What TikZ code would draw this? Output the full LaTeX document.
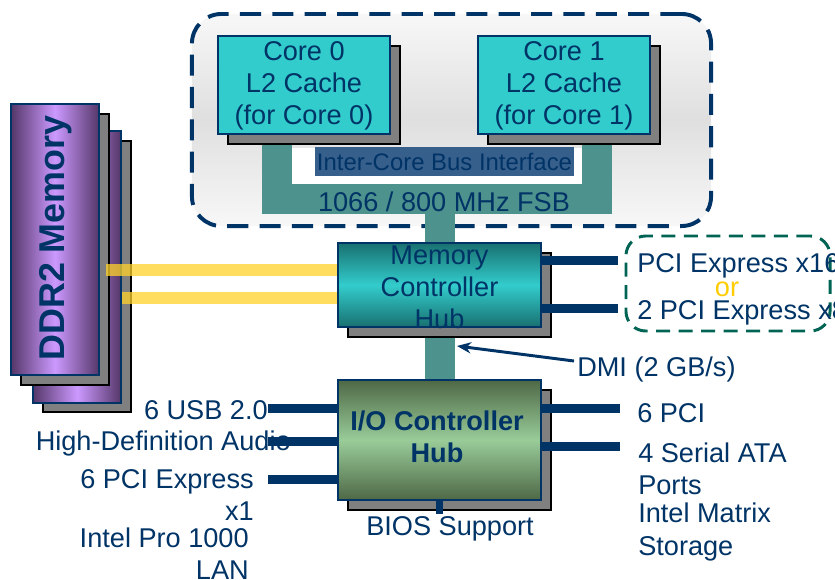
\documentclass[tikz,border=0pt]{standalone}
\usepackage{fontspec}
\setmainfont{Liberation Sans}
\usetikzlibrary{arrows.meta,shadows}
\definecolor{navy}{RGB}{0,51,102}
\definecolor{corecyan}{RGB}{51,204,204}
\definecolor{busteal}{RGB}{78,146,141}
\definecolor{mchdark}{RGB}{25,112,112}
\definecolor{ichdark}{RGB}{78,104,70}
\definecolor{ichlight}{RGB}{153,204,153}
\definecolor{ddrdark}{RGB}{85,55,105}
\definecolor{ddrlight}{RGB}{204,153,255}
\definecolor{memyellow}{RGB}{255,210,40}
\definecolor{pcigreen}{RGB}{0,100,85}
\definecolor{orgold}{RGB}{255,204,0}
\definecolor{icbblue}{RGB}{55,95,140}
\begin{document}
\begin{tikzpicture}[x=0.025cm,y=-0.025cm,
every node/.style={text=navy,inner sep=0pt,font=\fontsize{19.3}{22.8}\selectfont},
box/.style={draw=navy,line width=1.4pt,
  general shadow={fill=gray,draw=black,line width=1.4pt,shadow xshift=0.24cm,shadow yshift=-0.24cm}},
core/.style={box,fill=corecyan,minimum width=4.3cm,minimum height=2.45cm},
hub/.style={box,minimum width=5.075cm},
ddr/.style={box,left color=ddrdark,right color=ddrdark,middle color=ddrlight,minimum width=2.2cm,minimum height=6.775cm},
small/.style={font=\fontsize{17}{21}\selectfont},
bus/.style={busteal,line width=21pt},
link/.style={navy,line width=6.4pt},
memlink/.style={memyellow,opacity=.75,line width=8.5pt}
]
\useasboundingbox (0,0) rectangle (835,579);

% processor package
\node[draw=navy,line width=2.8pt,dash pattern=on 15pt off 8pt,rounded corners=21pt,
  top color=gray!6,bottom color=gray!6,middle color=gray!25,
  minimum width=12.975cm,minimum height=5.3cm] (cpu) at (451.5,120) {};
\fill[white] (292,148) rectangle (583,185);

% front side bus
\coordinate (fsbL) at (277,140);
\coordinate (fsbR) at (597,140);
\coordinate (fsbmid) at (440,199);
\coordinate (ichtop) at (440,380);
\draw[bus] (fsbL) -- (fsbL |- fsbmid) -- (fsbR |- fsbmid) -- (fsbR);
\draw[bus] (fsbmid) -- (ichtop);
\node[small,fill=icbblue,minimum width=6.475cm,minimum height=0.725cm] (icb) at (444.5,161.5) {Inter-Core Bus Interface};
\node (fsb) at (444,202) {1066 / 800 MHz FSB};

% cores
\node[core] (core0) at (304,85) {};
\node[align=center] (core0text) at (304,86) {Core 0\\L2 Cache\\(for Core 0)};
\node[core] (core1) at (564,85) {};
\node[align=center] (core1text) at (564,86) {Core 1\\L2 Cache\\(for Core 1)};

% hubs
\node[hub,top color=mchdark,bottom color=mchdark,middle color=corecyan,minimum height=2.1cm] (mch) at (439.5,285) {};
\node[align=center] (mchtext) at (439.5,287) {Memory\\Controller\\Hub};
\node[hub,top color=ichdark,bottom color=ichdark,middle color=ichlight,minimum height=3cm] (ich) at (439.5,440) {};
\node[align=center,font=\fontsize{19.3}{22.8}\selectfont\bfseries] (ichtext) at (437,437) {I/O Controller\\Hub};

% memory
\node[ddr] (ddrback) at (77,267) {};
\node[ddr] (ddrfront) at (55,239.5) {};
\node[rotate=90,font=\fontsize{25.5}{30}\selectfont\bfseries] (ddrtext) at (56,238) {DDR2 Memory};
\coordinate (memA) at (106,270);
\coordinate (memB) at (122,298);
\draw[memlink] (memA) -- (memA -| mch.west);
\draw[memlink] (memB) -- (memB -| mch.west);

% graphics
\coordinate (pcieA) at (618,260);
\coordinate (pcieB) at (618,308);
\draw[link] (mch.east |- pcieA) -- (pcieA);
\draw[link] (mch.east |- pcieB) -- (pcieB);
\node[draw=pcigreen,line width=2.1pt,dash pattern=on 10pt off 6pt,rounded corners=14pt,
  minimum width=5.1cm,minimum height=2.375cm] (pcibox) at (728,283.5) {};
\node[anchor=west] (pcie16) at (637,266) {PCI Express x16};
\node[text=orgold] (pcior) at (727,289) {or};
\node[anchor=west] (pcie8) at (637,313) {2 PCI Express x8};

% DMI
\coordinate (dmitail) at (574,361);
\coordinate (dmitip) at (457,346);
\node[anchor=west] (dmi) at (577,369) {DMI (2 GB/s)};
\draw[navy,line width=2.1pt,-{Stealth[length=10pt,width=8pt]}] (dmitail) -- (dmitip);

% I/O hub, left side
\node[anchor=east] (usbtext) at (268,410) {6 USB 2.0};
\node[anchor=east] (hdatext) at (291,443) {High-Definition Audio};
\node[anchor=east,align=right] (pcie1text) at (254,495) {6 PCI Express\\x1};
\node[anchor=east,align=right] (lantext) at (249,554) {Intel Pro 1000\\LAN};
\coordinate (usb) at (268,408);
\coordinate (hda) at (268,441);
\coordinate (pcie1) at (268,479);
\draw[link] (usb) -- (usb -| ich.west);
\draw[link] (hda) -- (hda -| ich.west);
\draw[link] (pcie1) -- (pcie1 -| ich.west);

% I/O hub, right side
\coordinate (pci) at (620,408);
\coordinate (sata) at (620,446);
\draw[link] (ich.east |- pci) -- (pci);
\draw[link] (ich.east |- sata) -- (sata);
\node[anchor=west] (pcitext) at (637,413) {6 PCI};
\node[anchor=west,align=left] (satatext) at (638,469) {4 Serial ATA\\Ports};
\node[anchor=west,align=left] (imstext) at (638,532) {Intel Matrix\\Storage};

% BIOS
\coordinate (bios) at (439.5,514);
\draw[navy,line width=5.6pt] (ich.south) -- (bios);
\node (biostext) at (450,529) {BIOS Support};
\end{tikzpicture}
\end{document}
